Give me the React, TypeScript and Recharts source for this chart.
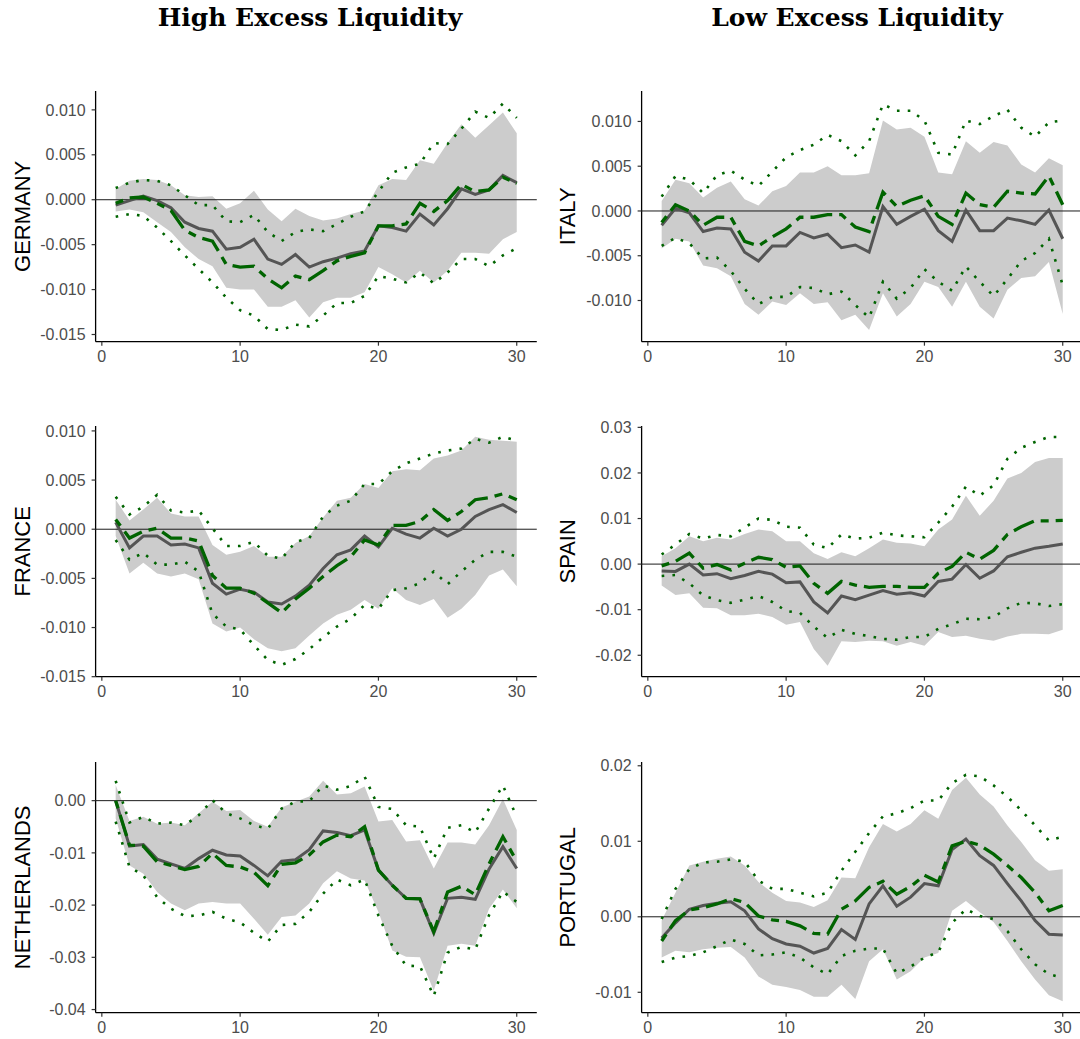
import { ComposedChart, Area, Line, XAxis, YAxis, ReferenceLine } from 'recharts';

// forecast horizon (x axis)
const horizon = [1, 2, 3, 4, 5, 6, 7, 8, 9, 10, 11, 12, 13, 14, 15, 16, 17, 18, 19, 20, 21, 22, 23, 24, 25, 26, 27, 28, 29, 30];

// GERMANY
const deBase = [-0.0006, -0.0001, 0.0004, -0.0001, -0.0009, -0.0025, -0.0032, -0.0035, -0.0055, -0.0053, -0.0044, -0.0066, -0.0072, -0.0061, -0.0075, -0.0069, -0.0065, -0.006, -0.0057, -0.0029, -0.0031, -0.0035, -0.0016, -0.0028, -0.001, 0.0012, 0.0006, 0.0011, 0.0027, 0.0019];
const deBaseLo = [-0.0013, -0.0011, -0.0014, -0.0025, -0.0036, -0.0053, -0.0066, -0.0074, -0.0098, -0.01, -0.01, -0.0119, -0.0119, -0.0112, -0.0131, -0.0114, -0.0109, -0.0109, -0.0103, -0.0075, -0.0083, -0.0092, -0.0079, -0.0092, -0.0079, -0.0059, -0.0059, -0.006, -0.0044, -0.0036];
const deBaseHi = [0.0012, 0.0021, 0.0023, 0.0022, 0.0016, 0.0005, 0.0003, 0.0004, -0.001, -0.0004, 0.001, -0.0011, -0.0024, -0.001, -0.0018, -0.0023, -0.0021, -0.0016, -0.0012, 0.0016, 0.0023, 0.0022, 0.0044, 0.004, 0.0063, 0.0084, 0.0069, 0.0083, 0.0097, 0.0074];
const deAlt = [-0.0004, 0.0002, 0.0003, -0.0004, -0.0012, -0.0034, -0.0042, -0.0046, -0.0072, -0.0075, -0.0074, -0.0088, -0.0098, -0.0085, -0.0089, -0.0079, -0.0068, -0.0063, -0.0059, -0.0029, -0.0029, -0.0027, -0.0004, -0.0013, -0.0001, 0.0017, 0.0009, 0.0011, 0.0025, 0.0018];
const deAltLo = [-0.0019, -0.0016, -0.0018, -0.0031, -0.0046, -0.0062, -0.0077, -0.0092, -0.0109, -0.0123, -0.0129, -0.0144, -0.0145, -0.0139, -0.0141, -0.0129, -0.0115, -0.0115, -0.0107, -0.0085, -0.0088, -0.0092, -0.0081, -0.0093, -0.0081, -0.0066, -0.0066, -0.0074, -0.0062, -0.0054];
const deAltHi = [0.0013, 0.0019, 0.0022, 0.0021, 0.0016, 0.0005, -0.0006, -0.0006, -0.0024, -0.0025, -0.0017, -0.0036, -0.0046, -0.0036, -0.0033, -0.0035, -0.0027, -0.0019, -0.0013, 0.0009, 0.003, 0.0036, 0.004, 0.0063, 0.0062, 0.0079, 0.0098, 0.0091, 0.0107, 0.0091];

// ITALY
const itBase = [-0.0016, 0.0003, -0.0002, -0.0023, -0.0019, -0.002, -0.0046, -0.0056, -0.0039, -0.0039, -0.0024, -0.003, -0.0026, -0.0041, -0.0038, -0.0046, 0.0005, -0.0015, -0.0006, 0.0002, -0.0022, -0.0034, 0.0001, -0.0022, -0.0022, -0.0008, -0.0011, -0.0015, 0.0001, -0.0031];
const itBaseLo = [-0.0042, -0.0031, -0.0034, -0.0061, -0.0064, -0.0073, -0.0104, -0.0116, -0.0101, -0.0105, -0.0092, -0.0104, -0.0102, -0.0122, -0.0116, -0.0133, -0.0092, -0.0118, -0.0104, -0.0079, -0.0085, -0.0107, -0.0079, -0.0107, -0.012, -0.0088, -0.0075, -0.0073, -0.0057, -0.0115];
const itBaseHi = [0.0011, 0.0035, 0.0031, 0.0015, 0.0026, 0.0033, 0.0013, 0.0006, 0.0022, 0.0028, 0.0043, 0.0043, 0.005, 0.004, 0.004, 0.0042, 0.0101, 0.0091, 0.0093, 0.0083, 0.0043, 0.0041, 0.0078, 0.0065, 0.0077, 0.0073, 0.0052, 0.0043, 0.0059, 0.0051];
const itAlt = [-0.0013, 0.0007, 0.0, -0.0016, -0.0007, -0.0007, -0.0034, -0.0039, -0.0029, -0.002, -0.0007, -0.0007, -0.0004, -0.0004, -0.0018, -0.0023, 0.0021, 0.0005, 0.0012, 0.0017, -0.0006, -0.0015, 0.002, 0.0007, 0.0004, 0.0022, 0.002, 0.0019, 0.0039, 0.0007];
const itAltLo = [-0.0039, -0.003, -0.0036, -0.0053, -0.0052, -0.0067, -0.0087, -0.0104, -0.0096, -0.0096, -0.0085, -0.0086, -0.0093, -0.009, -0.0105, -0.0119, -0.0079, -0.0098, -0.0086, -0.0065, -0.0079, -0.0089, -0.0062, -0.0079, -0.0095, -0.0076, -0.0056, -0.0047, -0.0031, -0.0083];
const itAltHi = [0.0016, 0.0039, 0.0035, 0.002, 0.004, 0.0045, 0.0035, 0.0028, 0.0044, 0.006, 0.0068, 0.0074, 0.0085, 0.0078, 0.0062, 0.0078, 0.0119, 0.0112, 0.0112, 0.0101, 0.0065, 0.0063, 0.0101, 0.0097, 0.0106, 0.0113, 0.0093, 0.0083, 0.0099, 0.0101];

// FRANCE
const frBase = [0.0007, -0.0019, -0.0007, -0.0007, -0.0016, -0.0015, -0.0019, -0.0055, -0.0066, -0.0061, -0.0064, -0.0074, -0.0076, -0.0068, -0.0057, -0.004, -0.0026, -0.0021, -0.0007, -0.0018, 0.0001, -0.0005, -0.0009, 0.0001, -0.0007, 0.0, 0.0013, 0.002, 0.0025, 0.0017];
const frBaseLo = [-0.0007, -0.0045, -0.0034, -0.0045, -0.0048, -0.0045, -0.0051, -0.0096, -0.0104, -0.01, -0.0112, -0.0121, -0.0124, -0.0121, -0.0108, -0.0096, -0.0087, -0.0082, -0.0072, -0.0081, -0.006, -0.0072, -0.0077, -0.0071, -0.009, -0.0081, -0.0067, -0.0047, -0.0041, -0.0058];
const frBaseHi = [0.003, 0.0009, 0.002, 0.0032, 0.0016, 0.0013, 0.0013, -0.0016, -0.0026, -0.0023, -0.0017, -0.0028, -0.0028, -0.0014, -0.0007, 0.0012, 0.0029, 0.0032, 0.0046, 0.0042, 0.0059, 0.0061, 0.006, 0.0072, 0.0075, 0.008, 0.0094, 0.0091, 0.009, 0.0089];
const frAlt = [0.001, -0.0009, -0.0002, 0.0001, -0.0009, -0.0009, -0.0012, -0.0047, -0.006, -0.006, -0.0065, -0.0075, -0.0085, -0.0071, -0.006, -0.0048, -0.0037, -0.0028, -0.0011, -0.0016, 0.0004, 0.0004, 0.0008, 0.002, 0.0009, 0.0018, 0.003, 0.0032, 0.0036, 0.003];
const frAltLo = [-0.0011, -0.0031, -0.0024, -0.0036, -0.0036, -0.0033, -0.0043, -0.0086, -0.0099, -0.0102, -0.0118, -0.0133, -0.0138, -0.0132, -0.0122, -0.011, -0.0099, -0.0091, -0.0077, -0.0081, -0.0062, -0.006, -0.0055, -0.0043, -0.0056, -0.0043, -0.0031, -0.0023, -0.0023, -0.0028];
const frAltHi = [0.0033, 0.0015, 0.0023, 0.0035, 0.0019, 0.0017, 0.0019, 0.0001, -0.0017, -0.0017, -0.0013, -0.0027, -0.003, -0.0013, -0.0009, 0.0013, 0.0024, 0.0029, 0.0046, 0.0046, 0.0059, 0.0067, 0.0072, 0.0077, 0.008, 0.0082, 0.0092, 0.0088, 0.0094, 0.009];

// SPAIN
const esBase = [-0.0015, -0.0016, 0.0, -0.0024, -0.0021, -0.0032, -0.0025, -0.0016, -0.0022, -0.0041, -0.0039, -0.0083, -0.0107, -0.007, -0.0078, -0.0068, -0.0058, -0.0066, -0.0063, -0.007, -0.0038, -0.0033, -0.0001, -0.0031, -0.0015, 0.0016, 0.0026, 0.0035, 0.0039, 0.0044];
const esBaseLo = [-0.0047, -0.0068, -0.0064, -0.0096, -0.0097, -0.0112, -0.0112, -0.0109, -0.0116, -0.0133, -0.0127, -0.0186, -0.0223, -0.0169, -0.0171, -0.0168, -0.0169, -0.0179, -0.0171, -0.0179, -0.0149, -0.016, -0.0157, -0.0164, -0.0168, -0.0159, -0.0153, -0.0153, -0.0154, -0.0144];
const esBaseHi = [0.0017, 0.0035, 0.0061, 0.005, 0.0058, 0.0054, 0.0066, 0.0076, 0.0072, 0.005, 0.005, 0.0024, 0.0011, 0.0026, 0.0017, 0.0035, 0.0054, 0.0047, 0.0045, 0.0039, 0.0076, 0.0098, 0.015, 0.0106, 0.0139, 0.0188, 0.02, 0.0224, 0.0233, 0.0233];
const esAlt = [-0.0004, 0.0006, 0.0024, -0.0009, -0.0001, -0.0013, 0.0002, 0.0015, 0.001, -0.0007, -0.0004, -0.0042, -0.0064, -0.0038, -0.0046, -0.0051, -0.0049, -0.0049, -0.0051, -0.0051, -0.002, -0.0005, 0.0026, 0.0011, 0.003, 0.0065, 0.0082, 0.0095, 0.0095, 0.0096];
const esAltLo = [-0.0026, -0.0024, -0.0042, -0.0069, -0.0079, -0.0085, -0.0078, -0.007, -0.0083, -0.0103, -0.0107, -0.0137, -0.0162, -0.0144, -0.0153, -0.0158, -0.0164, -0.0166, -0.016, -0.016, -0.0142, -0.0132, -0.012, -0.0121, -0.0116, -0.0097, -0.0085, -0.0086, -0.0092, -0.0088];
const esAltHi = [0.0021, 0.0043, 0.0066, 0.0056, 0.0064, 0.0061, 0.008, 0.01, 0.0097, 0.0082, 0.008, 0.0043, 0.0035, 0.0065, 0.0056, 0.0058, 0.0069, 0.0063, 0.0061, 0.0059, 0.0091, 0.0126, 0.017, 0.015, 0.0173, 0.0231, 0.0255, 0.0268, 0.0279, 0.0279];

// NETHERLANDS
const nlBase = [0.0, -0.0087, -0.0084, -0.0112, -0.0121, -0.013, -0.0111, -0.0095, -0.0104, -0.0106, -0.0124, -0.0144, -0.0116, -0.0113, -0.0094, -0.0058, -0.0061, -0.0067, -0.0056, -0.0133, -0.0162, -0.0187, -0.0188, -0.0254, -0.0187, -0.0185, -0.0189, -0.0131, -0.0088, -0.013];
const nlBaseLo = [-0.0034, -0.0124, -0.014, -0.0175, -0.0197, -0.021, -0.0197, -0.0194, -0.0197, -0.0197, -0.0226, -0.0257, -0.0223, -0.022, -0.0197, -0.0158, -0.0135, -0.0149, -0.0153, -0.0213, -0.0287, -0.0299, -0.03, -0.0364, -0.0278, -0.0274, -0.0278, -0.0207, -0.017, -0.0206];
const nlBaseHi = [0.003, -0.0039, -0.0031, -0.0044, -0.0042, -0.0047, -0.0024, -0.0002, -0.002, -0.0018, -0.0039, -0.005, -0.0013, -0.0002, 0.0008, 0.0038, 0.0012, 0.0014, 0.0027, -0.004, -0.0037, -0.0078, -0.0076, -0.013, -0.008, -0.008, -0.0084, -0.0047, 0.0003, -0.0056];
const nlAlt = [0.0, -0.0085, -0.0087, -0.0117, -0.0124, -0.0132, -0.0126, -0.0101, -0.0124, -0.0127, -0.0137, -0.0163, -0.0122, -0.0119, -0.0104, -0.0079, -0.0066, -0.0069, -0.005, -0.0133, -0.0162, -0.0187, -0.0188, -0.0251, -0.0175, -0.0164, -0.018, -0.0121, -0.0069, -0.0116];
const nlAltLo = [-0.004, -0.0127, -0.0143, -0.0185, -0.0207, -0.0221, -0.022, -0.0213, -0.0226, -0.0233, -0.0253, -0.027, -0.0238, -0.0236, -0.0213, -0.0178, -0.0151, -0.0162, -0.0151, -0.022, -0.0278, -0.0316, -0.0317, -0.0374, -0.0291, -0.028, -0.0285, -0.0219, -0.0174, -0.0194];
const nlAltHi = [0.0038, -0.0042, -0.0031, -0.0044, -0.0042, -0.0047, -0.0028, 0.0001, -0.0024, -0.0034, -0.0047, -0.0054, -0.0015, -0.0002, -0.0001, 0.0029, 0.0021, 0.0028, 0.0046, -0.0012, -0.0016, -0.0047, -0.005, -0.0111, -0.0052, -0.0047, -0.0061, -0.0015, 0.0029, -0.0031];

// PORTUGAL
const ptBase = [-0.0028, -0.0008, 0.001, 0.0015, 0.0018, 0.002, 0.0008, -0.0016, -0.0029, -0.0036, -0.0039, -0.0048, -0.0042, -0.0017, -0.003, 0.0017, 0.0041, 0.0014, 0.0026, 0.0044, 0.0041, 0.0089, 0.0103, 0.0081, 0.0068, 0.0044, 0.0021, -0.0005, -0.0023, -0.0024];
const ptBaseLo = [-0.0054, -0.0045, -0.0047, -0.0043, -0.0041, -0.004, -0.0054, -0.0079, -0.009, -0.0093, -0.0097, -0.0106, -0.0106, -0.009, -0.0109, -0.0059, -0.0043, -0.0083, -0.0072, -0.0054, -0.0048, 0.0008, 0.0021, 0.0006, -0.0007, -0.0032, -0.0059, -0.0083, -0.0104, -0.0112];
const ptBaseHi = [-0.0005, 0.0032, 0.0068, 0.0073, 0.0077, 0.008, 0.0068, 0.0046, 0.0032, 0.0021, 0.0019, 0.0013, 0.0022, 0.0052, 0.0051, 0.0092, 0.0123, 0.0113, 0.0123, 0.0141, 0.013, 0.0168, 0.0184, 0.0162, 0.0146, 0.0121, 0.0099, 0.0075, 0.0061, 0.0063];
const ptAlt = [-0.0032, -0.0005, 0.0009, 0.0012, 0.0017, 0.0024, 0.0019, 0.0001, -0.0004, -0.0006, -0.0012, -0.0022, -0.0023, 0.001, 0.0021, 0.0039, 0.0047, 0.003, 0.004, 0.0055, 0.0046, 0.0094, 0.01, 0.0095, 0.0083, 0.0068, 0.0052, 0.0032, 0.0008, 0.0015];
const ptAltLo = [-0.006, -0.0054, -0.0052, -0.0047, -0.0039, -0.003, -0.0036, -0.0051, -0.005, -0.0047, -0.0054, -0.0067, -0.0076, -0.0052, -0.0045, -0.0042, -0.0042, -0.0075, -0.0066, -0.0054, -0.0047, -0.0008, 0.001, 0.0001, -0.0003, -0.0019, -0.0043, -0.0063, -0.0076, -0.0081];
const ptAltHi = [-0.0003, 0.0037, 0.0063, 0.0072, 0.0073, 0.0076, 0.0073, 0.0048, 0.0037, 0.0037, 0.0032, 0.0027, 0.0032, 0.0061, 0.0086, 0.0111, 0.0133, 0.0137, 0.0144, 0.0154, 0.0154, 0.0177, 0.0188, 0.0186, 0.0174, 0.0159, 0.0141, 0.0121, 0.0101, 0.0106];

const SANS = '"Liberation Sans", Arial, Helvetica, sans-serif';
const GREEN = '#006400';

const panels = [
  { name: 'GERMANY', col: 0, row: 0, domain: [-0.0158, 0.0121], ticks: [-0.015, -0.01, -0.005, 0, 0.005, 0.01], dec: 3,
    base: deBase, baseLo: deBaseLo, baseHi: deBaseHi, alt: deAlt, altLo: deAltLo, altHi: deAltHi },
  { name: 'ITALY', col: 1, row: 0, domain: [-0.0146, 0.0134], ticks: [-0.01, -0.005, 0, 0.005, 0.01], dec: 3,
    base: itBase, baseLo: itBaseLo, baseHi: itBaseHi, alt: itAlt, altLo: itAltLo, altHi: itAltHi },
  { name: 'FRANCE', col: 0, row: 1, domain: [-0.015, 0.0105], ticks: [-0.015, -0.01, -0.005, 0, 0.005, 0.01], dec: 3,
    base: frBase, baseLo: frBaseLo, baseHi: frBaseHi, alt: frAlt, altLo: frAltLo, altHi: frAltHi },
  { name: 'SPAIN', col: 1, row: 1, domain: [-0.0247, 0.0303], ticks: [-0.02, -0.01, 0, 0.01, 0.02, 0.03], dec: 2,
    base: esBase, baseLo: esBaseLo, baseHi: esBaseHi, alt: esAlt, altLo: esAltLo, altHi: esAltHi },
  { name: 'NETHERLANDS', col: 0, row: 2, domain: [-0.0406, 0.0074], ticks: [-0.04, -0.03, -0.02, -0.01, 0], dec: 2,
    base: nlBase, baseLo: nlBaseLo, baseHi: nlBaseHi, alt: nlAlt, altLo: nlAltLo, altHi: nlAltHi },
  { name: 'PORTUGAL', col: 1, row: 2, domain: [-0.0127, 0.0205], ticks: [-0.01, 0, 0.01, 0.02], dec: 2,
    base: ptBase, baseLo: ptBaseLo, baseHi: ptBaseHi, alt: ptAlt, altLo: ptAltLo, altHi: ptAltHi },
];

const rowTop = [91, 426.3, 761.6];
const PLOT_H = 250.7;

function Panel({ p }: { p: any }) {
  const rows = horizon.map((h, i) => ({
    h,
    band: [p.baseLo[i], p.baseHi[i]],
    base: p.base[i],
    alt: p.alt[i],
    altLo: p.altLo[i],
    altHi: p.altHi[i],
  }));
  const left = p.col === 0 ? 0 : 540;
  const yw = p.col === 0 ? 95.6 : 101.6;
  const width = p.col === 0 ? 540 : 546;
  const labelX = p.col === 0 ? 22 : 27;

  return (
    <div style={{ position: 'absolute', left, top: rowTop[p.row] - 10 }}>
      <ComposedChart width={width} height={PLOT_H + 40} data={rows}
        margin={{ top: 10, right: 3.2, bottom: 0, left: 0 }}>
        <XAxis dataKey="h" type="number" domain={[-0.45, 31.45]} ticks={[0, 10, 20, 30]}
          allowDataOverflow height={30} tickSize={4} tickMargin={5}
          axisLine={{ stroke: '#000', strokeWidth: 1.3 }} tickLine={{ stroke: '#333', strokeWidth: 1.2 }}
          tick={{ fill: '#4D4D4D', fontSize: 16, fontFamily: SANS }} />
        <YAxis type="number" domain={p.domain} ticks={p.ticks} allowDataOverflow width={yw}
          tickSize={4} tickMargin={6} interval={0}
          axisLine={{ stroke: '#000', strokeWidth: 1.3 }} tickLine={{ stroke: '#333', strokeWidth: 1.2 }}
          tick={{ fill: '#4D4D4D', fontSize: 16, fontFamily: SANS }}
          tickFormatter={(v: number) => v.toFixed(p.dec)}
          label={(props: any) => {
            const vb = props.viewBox || { y: 10, height: PLOT_H };
            const y = vb.y + vb.height / 2;
            return (
              <text x={labelX} y={y} transform={`rotate(-90, ${labelX}, ${y})`} textAnchor="middle"
                dominantBaseline="central" fontSize={22} fontFamily={SANS} fill="#000">
                {p.name}
              </text>
            );
          }} />
        <Area dataKey="band" type="linear" stroke="none" fill="#CCCCCC" fillOpacity={1}
          isAnimationActive={false} />
        <ReferenceLine y={0} stroke="#1a1a1a" strokeWidth={1} />
        <Line dataKey="altHi" type="linear" stroke={GREEN} strokeWidth={2.6} strokeDasharray="2.6 8.2"
          dot={false} activeDot={false} isAnimationActive={false} />
        <Line dataKey="altLo" type="linear" stroke={GREEN} strokeWidth={2.6} strokeDasharray="2.6 8.2"
          dot={false} activeDot={false} isAnimationActive={false} />
        <Line dataKey="base" type="linear" stroke="#555555" strokeWidth={3} dot={false}
          activeDot={false} isAnimationActive={false} />
        <Line dataKey="alt" type="linear" stroke={GREEN} strokeWidth={3.3} strokeDasharray="8 7 22 7"
          dot={false} activeDot={false} isAnimationActive={false} />
      </ComposedChart>
    </div>
  );
}

export default function App() {
  return (
    <div style={{ position: 'absolute', left: 0, top: 0, width: 1080, height: 1039, overflow: 'hidden', background: '#fff' }}>
      <svg width={1080} height={60} style={{ position: 'absolute', left: 0, top: 0 }}>
        <text x={310} y={26} textAnchor="middle" fontSize={25} fontWeight="bold"
          fontFamily='"DejaVu Serif", serif' fill="#000">High Excess Liquidity</text>
        <text x={857} y={26} textAnchor="middle" fontSize={25} fontWeight="bold"
          fontFamily='"DejaVu Serif", serif' fill="#000">Low Excess Liquidity</text>
      </svg>
      {panels.map((p) => (
        <Panel key={p.name} p={p} />
      ))}
    </div>
  );
}
